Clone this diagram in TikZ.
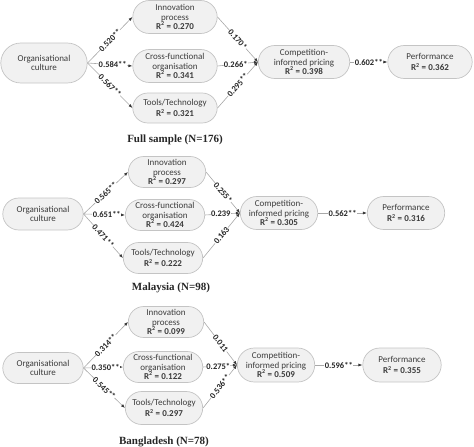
\documentclass[tikz,border=0pt]{standalone}
\usepackage{fontspec}
\setmainfont{Carlito}
\newfontfamily\capfont{Liberation Serif}
\usetikzlibrary{shapes.misc,arrows.meta}
\definecolor{nodefill}{HTML}{F1F1F1}
\definecolor{nodeline}{HTML}{C4C4C4}
\definecolor{edgeline}{HTML}{A8A8A8}
\definecolor{txt}{HTML}{3C3C3C}
\tikzset{
  box/.style={rounded rectangle, draw=nodeline, fill=nodefill, line width=0.7pt,
    align=center, inner sep=0.3pt, text=txt,
    font=\fontsize{9}{9.6}\selectfont},
  conn/.style={draw=edgeline, line width=0.6pt,
    -{Latex[length=4pt,width=3pt,color=black!80]}},
  lab/.style={fill=white, inner sep=0.3pt, text=black!85,
    font=\bfseries\fontsize{8.5}{9}\selectfont},
  captxt/.style={font=\capfont\bfseries\fontsize{11}{12}\selectfont, text=black!85}
}
\newcommand{\rsq}[1]{\textbf{R\textsuperscript{2} = #1}}
\begin{document}
\begin{tikzpicture}[x=1pt,y=-1pt]
\useasboundingbox (0,0) rectangle (474,447);
% ---------------- Full sample
\node[box, minimum width=87pt, minimum height=40pt] (org1) at (44,63) {Organisational\\culture};
\node[box, minimum width=85pt, minimum height=33pt] (inn1) at (175,17) {Innovation\\process\\\rsq{0.270}};
\node[box, minimum width=85pt, minimum height=33pt] (cro1) at (175,66) {Cross-functional\\organisation\\\rsq{0.341}};
\node[box, minimum width=85pt, minimum height=30pt] (too1) at (175,108) {Tools/Technology\\[2pt]\rsq{0.321}};
\node[box, minimum width=92pt, minimum height=33pt] (com1) at (304,62) {Competition-\\informed pricing\\\rsq{0.398}};
\node[box, minimum width=85pt, minimum height=33pt] (per1) at (430,62) {Performance\\[2pt]\rsq{0.362}};
\node[captxt] (cap1) at (175,140) {Full sample (N=176)};
\draw[conn] (org1.east) -- node[lab, sloped] {0.520**} (inn1.west);
\draw[conn] (org1.east) -- node[lab, pos=0.56] {0.584**} (cro1.west);
\draw[conn] (org1.east) -- node[lab, sloped] {0.567**} (too1.west);
\draw[conn] (inn1.east) -- node[lab, sloped] {0.170*} (com1.west);
\draw[conn] (cro1.east) -- node[lab, pos=0.45] {0.266*} (com1.west);
\draw[conn] (too1.east) -- node[lab, sloped] {0.295**} (com1.west);
\draw[conn] (com1.east) -- node[lab] {0.602**} (per1.west);
% ---------------- Malaysia
\node[box, minimum width=81pt, minimum height=32pt] (org2) at (43,214) {Organisational\\culture};
\node[box, minimum width=78pt, minimum height=31pt] (inn2) at (167,172) {Innovation\\process\\\rsq{0.297}};
\node[box, minimum width=80pt, minimum height=31pt] (cro2) at (165,215) {Cross-functional\\organisation\\\rsq{0.424}};
\node[box, minimum width=80pt, minimum height=31pt] (too2) at (163,258) {Tools/Technology\\[2pt]\rsq{0.222}};
\node[box, minimum width=78pt, minimum height=33pt] (com2) at (279,213) {Competition-\\informed pricing\\\rsq{0.305}};
\node[box, minimum width=78pt, minimum height=33pt] (per2) at (406,213) {Performance\\[2pt]\rsq{0.316}};
\node[captxt] (cap2) at (171,288) {Malaysia (N=98)};
\draw[conn] (org2.east) -- node[lab, sloped] {0.565**} (inn2.west);
\draw[conn] (org2.east) -- node[lab, pos=0.56] {0.651**} (cro2.west);
\draw[conn] (org2.east) -- node[lab, sloped] {0.471**} (too2.west);
\draw[conn] (inn2.east) -- node[lab, sloped] {0.255*} (com2.west);
\draw[conn] (cro2.east) -- node[lab, pos=0.45] {0.239} (com2.west);
\draw[conn] (too2.east) -- node[lab, sloped] {0.163} (com2.west);
\draw[conn] (com2.east) -- node[lab] {0.562**} (per2.west);
% ---------------- Bangladesh
\node[box, minimum width=81pt, minimum height=31pt] (org3) at (43,368) {Organisational\\culture};
\node[box, minimum width=76pt, minimum height=31pt] (inn3) at (166,322) {Innovation\\process\\\rsq{0.099}};
\node[box, minimum width=80pt, minimum height=31pt] (cro3) at (163,367) {Cross-functional\\organisation\\\rsq{0.122}};
\node[box, minimum width=78pt, minimum height=33pt] (too3) at (164,408) {Tools/Technology\\[2pt]\rsq{0.297}};
\node[box, minimum width=78pt, minimum height=34pt] (com3) at (276,365) {Competition-\\informed pricing\\\rsq{0.509}};
\node[box, minimum width=79pt, minimum height=34pt] (per3) at (402,365) {Performance\\[2pt]\rsq{0.355}};
\node[captxt] (cap3) at (164,442) {Bangladesh (N=78)};
\draw[conn] (org3.east) -- node[lab, sloped] {0.314**} (inn3.west);
\draw[conn] (org3.east) -- node[lab, pos=0.56] {0.350**} (cro3.west);
\draw[conn] (org3.east) -- node[lab, sloped] {0.545**} (too3.west);
\draw[conn] (inn3.east) -- node[lab, sloped] {0.011} (com3.west);
\draw[conn] (cro3.east) -- node[lab, pos=0.45] {0.275*} (com3.west);
\draw[conn] (too3.east) -- node[lab, sloped] {0.536**} (com3.west);
\draw[conn] (com3.east) -- node[lab] {0.596**} (per3.west);
\end{tikzpicture}
\end{document}
